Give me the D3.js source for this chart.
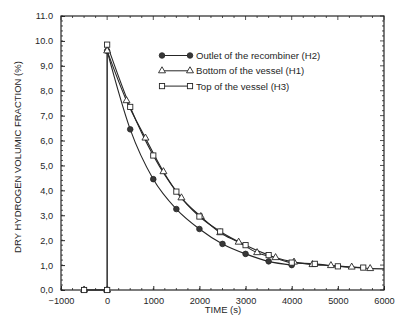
<!DOCTYPE html>
<html>
<head>
<meta charset="utf-8">
<script src="https://cdn.jsdelivr.net/npm/d3@7"></script>
<style>
  body { margin: 0; background: #fff; }
  svg { display: block; font-family: "Liberation Sans", Arial, sans-serif; }
</style>
</head>
<body>
<svg id="chart" width="395" height="320"></svg>
<script>
// data
const seriesNames = ['Outlet of the recombiner (H2)', 'Bottom of the vessel (H1)', 'Top of the vessel (H3)']
const markerKinds = ['circle', 'triangle', 'square']

const h2Time = [0, 500, 1000, 1500, 2000, 2500, 3000, 3500, 4000]
const h2Frac = [9.6, 6.45, 4.45, 3.25, 2.45, 1.85, 1.45, 1.15, 1.0]

const h1Time = [-500, 0, 0, 420, 830, 1220, 1610, 2030, 2450, 2850, 3250, 3650, 4050, 4450, 4850, 5300, 5700]
const h1Frac = [0, 0, 9.6, 7.6, 6.1, 4.75, 3.7, 2.95, 2.3, 1.92, 1.5, 1.3, 1.12, 1.02, 0.98, 0.92, 0.86]

const h3Time = [-500, 0, 0, 500, 1000, 1500, 2000, 2450, 3000, 3500, 4000, 4500, 5000, 5550]
const h3Frac = [0, 0, 9.85, 7.35, 5.4, 3.95, 2.95, 2.35, 1.8, 1.4, 1.1, 1.05, 0.95, 0.9]

// line runs on past the last marker to the frame
const tailTime = [5700, 6000]
const tailFrac = [0.86, 0.85]

const xTicks = [-1000, 0, 1000, 2000, 3000, 4000, 5000, 6000]
const yTicks = [0, 1, 2, 3, 4, 5, 6, 7, 8, 9, 10, 11]
const yTickLabels = ['0,0', '1,0', '2,0', '3,0', '4,0', '5,0', '6,0', '7,0', '8,0', '9,0', '10.0', '11.0']

const ink = '#262626'
const svg = d3.select('#chart')
const mLeft = 61, mRight = 384, mTop = 16, mBottom = 290

const x = d3.scaleLinear([-1000, 6000], [mLeft, mRight])
const y = d3.scaleLinear([0, 11], [mBottom, mTop])

const series = [
  {time: h2Time, frac: h2Frac},
  {time: h1Time, frac: h1Frac},
  {time: h3Time, frac: h3Frac}
].map((s, i) => ({
  name: seriesNames[i],
  kind: markerKinds[i],
  points: s.time.map((t, j) => ({t: t, v: s.frac[j]}))
}))

// frame
svg.append('rect')
  .attr('x', mLeft).attr('y', mTop)
  .attr('width', mRight - mLeft).attr('height', mBottom - mTop)
  .attr('fill', 'none').attr('stroke', ink).attr('stroke-width', 1.2)

// axes with inward ticks
const xMinor = d3.range(-1000, 6001, 250)
const yMinor = d3.range(0, 11.01, 0.2)

const bottomAxis = d3.axisBottom(x).tickValues(xTicks).tickSize(-4).tickPadding(7)
  .tickFormat(d3.format('d'))
const gx = svg.append('g').attr('transform', `translate(0,${mBottom})`).call(bottomAxis)
gx.select('.domain').remove()
gx.selectAll('text').attr('font-size', 9.2).attr('fill', ink)
  .text((d) => d < 0 ? '\u22121000' : d)
gx.selectAll('line').attr('stroke', ink)

const leftAxis = d3.axisLeft(y).tickValues(yTicks).tickSize(-4).tickPadding(8)
  .tickFormat((d, i) => yTickLabels[i])
const gy = svg.append('g').attr('transform', `translate(${mLeft},0)`).call(leftAxis)
gy.select('.domain').remove()
gy.selectAll('text').attr('font-size', 9.2).attr('fill', ink)
gy.selectAll('line').attr('stroke', ink)

// minor ticks on all four sides
const tickG = svg.append('g').attr('stroke', ink).attr('stroke-width', 0.8)
tickG.selectAll('.mxb').data(xMinor).join('line').attr('class', 'mxb')
  .attr('x1', (d) => x(d)).attr('x2', (d) => x(d))
  .attr('y1', mBottom).attr('y2', mBottom - 2)
tickG.selectAll('.mxt').data(xMinor).join('line').attr('class', 'mxt')
  .attr('x1', (d) => x(d)).attr('x2', (d) => x(d))
  .attr('y1', mTop).attr('y2', (d) => mTop + (d % 1000 === 0 ? 4 : 2))
tickG.selectAll('.myl').data(yMinor).join('line').attr('class', 'myl')
  .attr('x1', mLeft).attr('x2', mLeft + 2)
  .attr('y1', (d) => y(d)).attr('y2', (d) => y(d))
tickG.selectAll('.myr').data(yMinor).join('line').attr('class', 'myr')
  .attr('x1', mRight).attr('x2', (d) => mRight - (Math.abs(d - Math.round(d)) < 1e-6 ? 4 : 2))
  .attr('y1', (d) => y(d)).attr('y2', (d) => y(d))

// axis titles
svg.append('text')
  .attr('x', 223).attr('y', 313)
  .attr('text-anchor', 'middle').attr('font-size', 9.5).attr('fill', ink)
  .text('TIME (s)')
svg.append('text')
  .attr('transform', `translate(21,${(mTop + mBottom) / 2 + 4}) rotate(-90)`)
  .attr('text-anchor', 'middle').attr('font-size', 9.5).attr('fill', ink)
  .text('DRY HYDROGEN VOLUMIC FRACTION (%)')

// curves
const line = d3.line().x((d) => x(d.t)).y((d) => y(d.v))
  .curve(d3.curveMonotoneX)
const plainLine = d3.line().x((d) => x(d.t)).y((d) => y(d.v))

function drawMarker(g, kind, cx, cy) {
  if (kind === 'circle') {
    g.append('circle').attr('cx', cx).attr('cy', cy).attr('r', 2.8)
      .attr('fill', '#383838').attr('stroke', ink).attr('stroke-width', 0.8)
  } else if (kind === 'triangle') {
    g.append('path').attr('transform', `translate(${cx},${cy})`)
      .attr('d', d3.symbol(d3.symbolTriangle, 21)())
      .attr('fill', '#fff').attr('stroke', ink).attr('stroke-width', 0.9)
  } else {
    g.append('rect').attr('x', cx - 2.6).attr('y', cy - 2.6).attr('width', 5.2).attr('height', 5.2)
      .attr('fill', '#fff').attr('stroke', ink).attr('stroke-width', 0.9)
  }
}

series.forEach((s) => {
  // straight segments for the step at t=0, smooth afterwards
  const pre = s.points.filter((d) => d.t < 0 || (d.t === 0 && d.v === 0))
  const post = s.points.filter((d) => !(d.t < 0 || (d.t === 0 && d.v === 0)))
  if (pre.length) {
    svg.append('path').datum(pre.concat([post[0]])).attr('d', plainLine)
      .attr('fill', 'none').attr('stroke', ink).attr('stroke-width', 1)
  }
  svg.append('path').datum(post).attr('d', line)
    .attr('fill', 'none').attr('stroke', ink).attr('stroke-width', 1.1)
})

const tail = tailTime.map((t, i) => ({t: t, v: tailFrac[i]}))
svg.append('path').datum(tail).attr('d', plainLine)
  .attr('fill', 'none').attr('stroke', ink).attr('stroke-width', 1.1)

series.forEach((s) => {
  const g = svg.append('g')
  s.points.forEach((d) => drawMarker(g, s.kind, x(d.t), y(d.v)))
})

// legend
const legend = svg.append('g')
seriesNames.forEach((name, i) => {
  const ly = 55.5 + i * 15.3
  legend.append('line').attr('x1', 162).attr('x2', 190).attr('y1', ly).attr('y2', ly)
    .attr('stroke', ink).attr('stroke-width', 1)
  drawMarker(legend, markerKinds[i], 162, ly)
  drawMarker(legend, markerKinds[i], 190, ly)
  legend.append('text').attr('x', 196).attr('y', ly + 3.4)
    .attr('font-size', 9.6).attr('fill', ink).text(name)
})
</script>
</body>
</html>
